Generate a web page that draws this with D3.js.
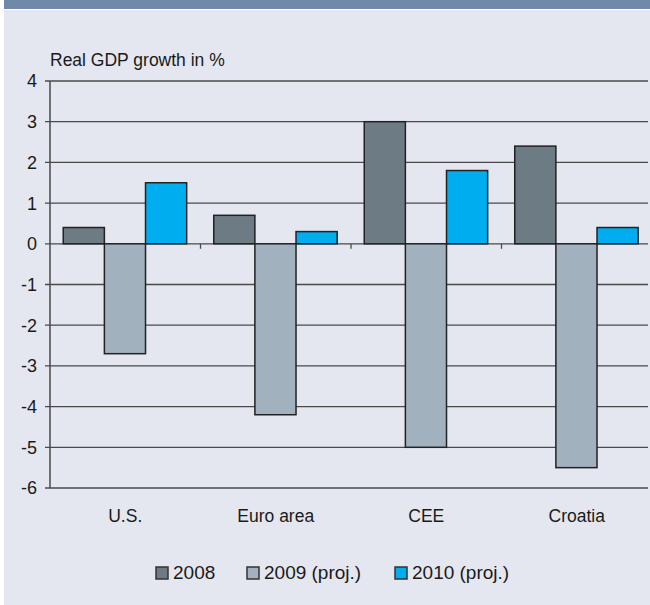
<!DOCTYPE html>
<html>
<head>
<meta charset="utf-8">
<script src="https://cdn.jsdelivr.net/npm/d3@7"></script>
<style>
  body { margin: 0; background: #fff; }
  svg text { font-family: "Liberation Sans", Arial, sans-serif; fill: #1a1a1a; }
</style>
</head>
<body>
<svg id="chart"></svg>
<script>
// chart data
const categories = ['U.S.', 'Euro area', 'CEE', 'Croatia'];
const seriesNames = ['2008', '2009 (proj.)', '2010 (proj.)'];
const values2008 = [0.4, 0.7, 3.0, 2.4];
const values2009 = [-2.7, -4.2, -5.0, -5.5];
const values2010 = [1.5, 0.3, 1.8, 0.4];
const yTicks = [4, 3, 2, 1, 0, -1, -2, -3, -4, -5, -6];

const seriesColors = ['#6d7b84', '#a1b1be', '#00aeef'];
const seriesValues = [values2008, values2009, values2010];

const width = 650;
const height = 605;

const svg = d3.select('#chart')
    .attr('width', width)
    .attr('height', height);

// background panel and header strip
svg.append('rect')
    .attr('x', 4).attr('y', 0)
    .attr('width', width - 4).attr('height', 9)
    .attr('fill', '#7189a9');
svg.append('rect')
    .attr('x', 4).attr('y', 10)
    .attr('width', width - 4).attr('height', height - 10)
    .attr('fill', '#e4e7ef');

const x0 = d3.scaleBand()
    .domain(categories)
    .range([50, 652]);

const x1 = d3.scaleBand()
    .domain(seriesNames)
    .range([x0.bandwidth() * 0.088, x0.bandwidth() * 0.908]);

const y = d3.scaleLinear()
    .domain([-6, 4])
    .range([488, 81]);

// gridlines with small ticks on the left
const grid = svg.append('g');
grid.selectAll('line')
    .data(yTicks)
    .join('line')
    .attr('x1', 45)
    .attr('x2', 648)
    .attr('y1', d => y(d))
    .attr('y2', d => y(d))
    .attr('stroke', '#4a4a4a')
    .attr('stroke-width', 1.3);

grid.selectAll('text')
    .data(yTicks)
    .join('text')
    .attr('x', 37)
    .attr('y', d => y(d))
    .attr('dy', '0.36em')
    .attr('text-anchor', 'end')
    .attr('font-size', 18)
    .text(d => d);

// bars
const groups = svg.append('g')
    .selectAll('g')
    .data(categories)
    .join('g')
    .attr('transform', d => `translate(${x0(d)},0)`);

groups.selectAll('rect')
    .data((d, i) => seriesNames.map((s, j) => ({ series: s, value: seriesValues[j][i], color: seriesColors[j] })))
    .join('rect')
    .attr('x', d => x1(d.series))
    .attr('width', x1.bandwidth())
    .attr('y', d => y(Math.max(0, d.value)))
    .attr('height', d => Math.abs(y(d.value) - y(0)))
    .attr('fill', d => d.color)
    .attr('stroke', '#222')
    .attr('stroke-width', 1.5);

// category ticks on zero line
svg.append('g')
    .selectAll('line')
    .data(categories.slice(1))
    .join('line')
    .attr('x1', d => x0(d))
    .attr('x2', d => x0(d))
    .attr('y1', y(0))
    .attr('y2', y(0) + 5)
    .attr('stroke', '#4a4a4a')
    .attr('stroke-width', 1.3);

// y axis line
svg.append('line')
    .attr('x1', 50).attr('x2', 50)
    .attr('y1', y(4)).attr('y2', y(-6))
    .attr('stroke', '#4a4a4a')
    .attr('stroke-width', 1.5);

// category labels
svg.append('g')
    .selectAll('text')
    .data(categories)
    .join('text')
    .attr('x', d => x0(d) + x0.bandwidth() / 2)
    .attr('y', 522)
    .attr('text-anchor', 'middle')
    .attr('font-size', 17.5)
    .text(d => d);

// axis title
svg.append('text')
    .attr('x', 50)
    .attr('y', 66)
    .attr('font-size', 17.5)
    .text('Real GDP growth in %');

// legend
const legendX = [156, 247, 395];
const legend = svg.append('g')
    .selectAll('g')
    .data(seriesNames)
    .join('g')
    .attr('transform', (d, i) => `translate(${legendX[i]},567)`);

legend.append('rect')
    .attr('width', 12)
    .attr('height', 12)
    .attr('fill', (d, i) => seriesColors[i])
    .attr('stroke', '#333')
    .attr('stroke-width', 1.5);

legend.append('text')
    .attr('x', 17)
    .attr('y', 12)
    .attr('font-size', 19)
    .text(d => d);
</script>
</body>
</html>
